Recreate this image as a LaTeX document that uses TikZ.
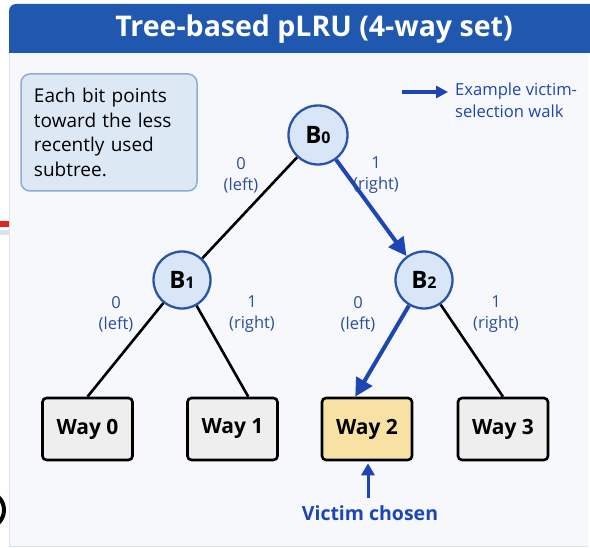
\documentclass[tikz,border=0pt]{standalone}
\usepackage{fontspec}
\setmainfont{Open Sans}
\usetikzlibrary{arrows.meta}
\definecolor{titleblue}{HTML}{1F58AE}
\definecolor{panelbg}{HTML}{F6F8FB}
\definecolor{panelline}{HTML}{DCE2EA}
\definecolor{notefill}{HTML}{DDE8F5}
\definecolor{noteline}{HTML}{8EACD6}
\definecolor{bitfill}{HTML}{D9E6F7}
\definecolor{bitline}{HTML}{2A54A8}
\definecolor{walkblue}{HTML}{1E45B6}
\definecolor{labelblue}{HTML}{2C4C9C}
\definecolor{wayfill}{HTML}{EEEEEE}
\definecolor{victimfill}{HTML}{F8E2A3}
\definecolor{artred}{HTML}{E32222}
\begin{document}
\begin{tikzpicture}[x=1pt,y=-1pt,
  bitnode/.style={circle,draw=bitline,line width=2.3pt,fill=bitfill,minimum size=59pt,inner sep=0pt},
  waybox/.style={rectangle,rounded corners=4pt,draw=black,line width=2.6pt,fill=wayfill,minimum width=90pt,minimum height=62pt,font=\fontsize{21}{23}\selectfont\bfseries},
  bitlabel/.style={text=labelblue,align=center,font=\fontsize{16.5}{21}\selectfont},
  treeline/.style={draw=black,line width=2.6pt},
  walk/.style={draw=walkblue,line width=4pt,-{Triangle[length=18pt,width=18pt]}}
]
\useasboundingbox (0,0) rectangle (590,548);
\fill[white] (0,0) rectangle (590,548);
% artifacts at left edge
\fill[artred] (0,221) rectangle (9,227);
\fill[panelline] (0,230) rectangle (9,235);
\draw[black,line width=4pt] (-14,510) circle (18);
% panel
\fill[panelbg] (9,53) rectangle (588,546);
\draw[panelline,line width=1pt] (9,53) -- (9,546) -- (588,546);
% title bar
\fill[titleblue,rounded corners=7pt] (9,4) rectangle (620,53);
\fill[titleblue] (9,30) rectangle (620,53);
\node[text=white,font=\fontsize{28.5}{30}\selectfont\bfseries] (title) at (314,29) {Tree-based pLRU (4-way set)};
% note
\node[draw=noteline,line width=1.5pt,fill=notefill,rounded corners=9pt,minimum width=174pt,minimum height=117pt,text width=150pt,align=left,font=\fontsize{19}{24.5}\selectfont,inner xsep=13pt] (note) at (109,132.5) {Each bit points toward the less recently used subtree.};
% legend
\coordinate (lgA) at (402,92);
\coordinate (lgB) at (448,92);
\draw[walkblue,line width=3.2pt,-{Triangle[length=12pt,width=12pt]}] (lgA) -- (lgB);
\node[text=walkblue,anchor=north west,align=left,font=\fontsize{16.6}{21.5}\selectfont,inner sep=0pt] (legend) at (455,83) {Example victim-\\selection walk};
% bit nodes
\node[bitnode] (b0) at (318,135) {{\fontsize{24}{24}\selectfont\bfseries B}{\fontsize{16}{16}\selectfont\bfseries 0}};
\node[bitnode,minimum size=57pt] (b1) at (182,280) {{\fontsize{24}{24}\selectfont\bfseries B}{\fontsize{16}{16}\selectfont\bfseries 1}};
\node[bitnode,minimum size=57pt] (b2) at (424,280) {{\fontsize{24}{24}\selectfont\bfseries B}{\fontsize{16}{16}\selectfont\bfseries 2}};
% ways
\node[waybox] (w0) at (87.5,429) {Way 0};
\node[waybox] (w1) at (232.5,429) {Way 1};
\node[waybox,fill=victimfill] (w2) at (367,429) {Way 2};
\node[waybox] (w3) at (503,429) {Way 3};
% edges
\draw[treeline] (b0) -- (b1);
\draw[walk] (b0) -- (b2);
\draw[treeline] (b1) -- (w0.north);
\draw[treeline] (b1) -- (w1.64);
\draw[walk] (b2) -- (w2.110);
\draw[treeline] (b2) -- (w3.north);
% bit labels
\node[bitlabel] (l0) at (241,175) {0\\(left)};
\node[bitlabel] (r0) at (376,175) {1\\(right)};
\node[bitlabel] (l1) at (116,314) {0\\(left)};
\node[bitlabel] (r1) at (252,314) {1\\(right)};
\node[bitlabel] (l2) at (358,314) {0\\(left)};
\node[bitlabel] (r2) at (496,314) {1\\(right)};
% victim
\node[text=walkblue,font=\fontsize{19.5}{21}\selectfont\bfseries] (vc) at (370,513) {Victim chosen};
\coordinate (vtail) at (368,498);
\draw[walkblue,line width=3pt,-{Triangle[length=12pt,width=13pt]},shorten >=2pt] (vtail) -- (vtail |- w2.south);
\end{tikzpicture}
\end{document}
